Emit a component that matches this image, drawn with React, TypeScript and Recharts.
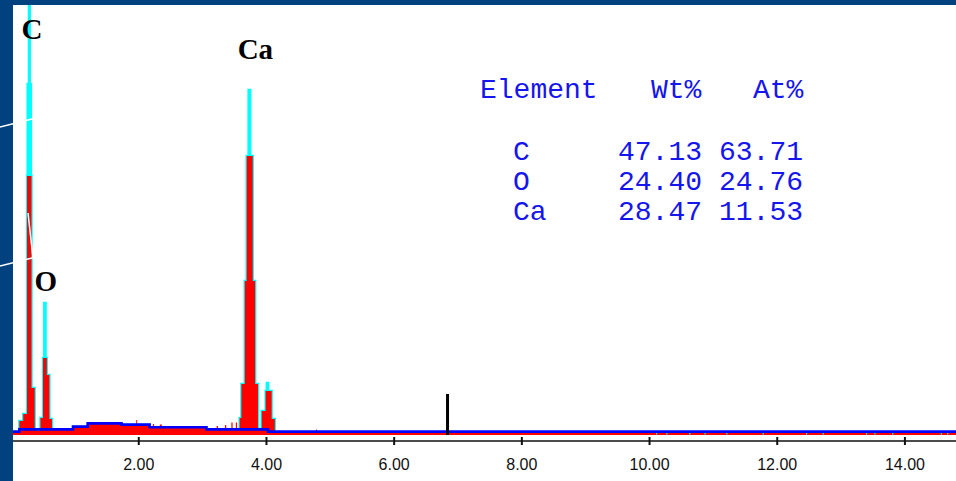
import React from 'react';
import { ComposedChart, Area, Line, XAxis, YAxis, ReferenceLine, ReferenceDot } from 'recharts';

// Energy breakpoints (keV) of the stepped spectrum
const energy = [
  0.03, 0.13, 0.19, 0.25, 0.26, 0.28, 0.292, 0.31, 0.32, 0.37, 0.46, 0.5, 0.52, 0.54, 0.56, 0.6, 0.64,
  0.97, 1.2, 1.73, 1.96, 1.975, 2.17, 2.22, 2.24, 2.33, 2.36, 2.61, 2.63,
  3.06, 3.22, 3.24, 3.35, 3.37, 3.45, 3.47, 3.52, 3.54,
  3.58, 3.607, 3.66, 3.69, 3.72, 3.745, 3.785, 3.823, 3.867, 3.925, 3.987, 4.005, 4.025, 4.081, 4.131,
  4.775, 4.79,
  10.1, 10.12, 10.26, 10.28, 10.62, 10.64, 10.86, 10.88, 11.2, 11.22, 11.77, 11.79,
  12.45, 12.47, 12.71, 12.73, 13.39, 13.41, 13.52, 13.54, 13.8, 13.82, 14.56, 14.58, 14.66, 14.68,
  14.8,
];
// Measured counts (red histogram)
const counts = [
  10, 70, 105, 1295, 1295, 1295, 1295, 1295, 235, 22, 85, 385, 385, 385, 300, 80, 25,
  40, 55, 50, 75, 50, 37, 55, 37, 52, 37, 45, 37,
  25, 45, 25, 50, 25, 62, 30, 62, 30,
  85, 255, 770, 1395, 1395, 1395, 770, 255, 30, 120, 220, 220, 220, 80, 14,
  28, 14,
  3, 14, 3, 14, 3, 14, 3, 14, 3, 14, 3, 14,
  3, 14, 3, 14, 3, 14, 3, 14, 3, 14, 3, 14, 3, 14,
  14,
];
// Background fit (blue)
const background = [
  17, 28, 28, 28, 28, 28, 28, 28, 28, 28, 28, 28, 28, 28, 28, 28, 28,
  42, 58, 52, 52, 52, 39, 39, 39, 39, 39, 39, 39,
  28, 28, 28, 28, 28, 28, 28, 28, 28,
  28, 28, 28, 28, 28, 28, 28, 28, 28, 28, 28, 28, 17, 17, 17,
  17, 17,
  17, 17, 17, 17, 17, 17, 17, 17, 17, 17, 17, 17,
  17, 17, 17, 17, 17, 17, 17, 17, 17, 17, 17, 17, 17, 17,
  17,
];
// Peak outline (cyan)
const outline = [
  10, 70, 105, 1295, 1755, 2600, 1755, 1295, 235, 22, 85, 385, 660, 385, 300, 80, 25,
  40, 55, 50, 50, 50, 37, 37, 37, 37, 37, 37, 37,
  25, 25, 25, 25, 25, 25, 25, 25, 25,
  85, 255, 770, 1395, 1725, 1395, 770, 255, 30, 120, 220, 260, 220, 80, 14,
  14, 14,
  14, 14, 14, 14, 14, 14, 14, 14, 14, 14, 14, 14,
  14, 14, 14, 14, 14, 14, 14, 14, 14, 14, 14, 14, 14, 14,
  14,
];

const xTicks = [2, 4, 6, 8, 10, 12, 14];

const peakNames = ['C', 'O', 'Ca'];
const peakEnergy = [0.326, 0.545, 3.826];
const peakLabelHeight = [2030, 770, 1932];

const markerEnergy = 6.836;
const markerHeight = 205;

const tableHeaders = ['Element', 'Wt%', 'At%'];
const tableElements = ['C', 'O', 'Ca'];
const tableWt = ['47.13', '24.40', '28.47'];
const tableAt = ['63.71', '24.76', '11.53'];

const data = energy.map((e, i) => ({
  e,
  counts: counts[i],
  bg: background[i],
  outline: outline[i],
}));

const renderTick = (props: any) => {
  const { x, y, payload } = props;
  return (
    <g>
      <line x1={x} x2={x} y1={y - 4} y2={y + 4} stroke="#111" strokeWidth={2} />
      <text
        x={x}
        y={y + 29}
        textAnchor="middle"
        fontFamily="'Liberation Sans', Arial, sans-serif"
        fontSize={16}
        fill="#111"
      >
        {Number(payload.value).toFixed(2)}
      </text>
    </g>
  );
};

const makeLabelShape = (name: string) => (props: any) => (
  <text
    x={props.cx}
    y={props.cy}
    textAnchor="middle"
    dominantBaseline="central"
    fontFamily="'Liberation Serif', 'Times New Roman', serif"
    fontWeight="bold"
    fontSize={29}
    fill="#000"
  >
    {name}
  </text>
);

const tableFont = "'Liberation Mono', 'Courier New', monospace";
const tableColor = '#1515EE';

export default function App() {
  return (
    <div
      style={{
        position: 'absolute',
        left: 0,
        top: 0,
        width: 956,
        height: 481,
        background: '#02417F',
        overflow: 'hidden',
      }}
    >
      <div
        style={{
          position: 'absolute',
          left: 13,
          top: 5,
          width: 943,
          height: 476,
          background: '#fff',
        }}
      >
        <ComposedChart
          width={943}
          height={476}
          data={data}
          margin={{ top: 0, right: 0, bottom: 0, left: 0 }}
        >
          <XAxis
            dataKey="e"
            type="number"
            domain={[0.03, 14.8]}
            ticks={xTicks}
            interval={0}
            allowDataOverflow
            tick={renderTick}
            tickLine={false}
            tickSize={0}
            tickMargin={0}
            axisLine={{ stroke: '#111', strokeWidth: 1.5 }}
            height={40}
          />
          <YAxis hide type="number" domain={[-30, 2150]} allowDataOverflow />
          <Area
            dataKey="outline"
            type="stepAfter"
            stroke="#00FFFF"
            strokeWidth={2.4}
            fill="#00FFFF"
            fillOpacity={1}
            baseValue={0}
            dot={false}
            activeDot={false}
            isAnimationActive={false}
          />
          <Area
            dataKey="counts"
            type="stepAfter"
            stroke="none"
            fill="#FF0000"
            fillOpacity={1}
            baseValue={0}
            dot={false}
            activeDot={false}
            isAnimationActive={false}
          />
          <Line
            dataKey="bg"
            type="stepAfter"
            stroke="#0000FF"
            strokeWidth={2.6}
            dot={false}
            activeDot={false}
            isAnimationActive={false}
          />
          <ReferenceLine
            segment={[
              { x: markerEnergy, y: 0 },
              { x: markerEnergy, y: markerHeight },
            ]}
            stroke="#000"
            strokeWidth={3}
          />
          {peakNames.map((n, i) => (
            <ReferenceDot
              key={n}
              x={peakEnergy[i]}
              y={peakLabelHeight[i]}
              r={0}
              shape={makeLabelShape(n)}
            />
          ))}
        </ComposedChart>
      </div>
      <svg
        width={956}
        height={481}
        style={{ position: 'absolute', left: 0, top: 0, pointerEvents: 'none' }}
      >
        <text x={480} y={98} fontFamily={tableFont} fontSize={28} fill={tableColor}>
          {tableHeaders[0]}
        </text>
        <text x={651} y={98} fontFamily={tableFont} fontSize={28} fill={tableColor}>
          {tableHeaders[1]}
        </text>
        <text x={753} y={98} fontFamily={tableFont} fontSize={28} fill={tableColor}>
          {tableHeaders[2]}
        </text>
        {tableElements.map((el, i) => (
          <g key={el}>
            <text x={513} y={160 + i * 30} fontFamily={tableFont} fontSize={28} fill={tableColor}>
              {el}
            </text>
            <text x={618} y={160 + i * 30} fontFamily={tableFont} fontSize={28} fill={tableColor}>
              {tableWt[i]}
            </text>
            <text x={719} y={160 + i * 30} fontFamily={tableFont} fontSize={28} fill={tableColor}>
              {tableAt[i]}
            </text>
          </g>
        ))}
        <line x1={0} y1={127} x2={40} y2={117} stroke="#fff" strokeWidth={1.5} />
        <line x1={0} y1={266} x2={40} y2={256} stroke="#fff" strokeWidth={1.5} />
        <line x1={28} y1={213} x2={33} y2={258} stroke="#fff" strokeWidth={1.5} />
      </svg>
    </div>
  );
}
